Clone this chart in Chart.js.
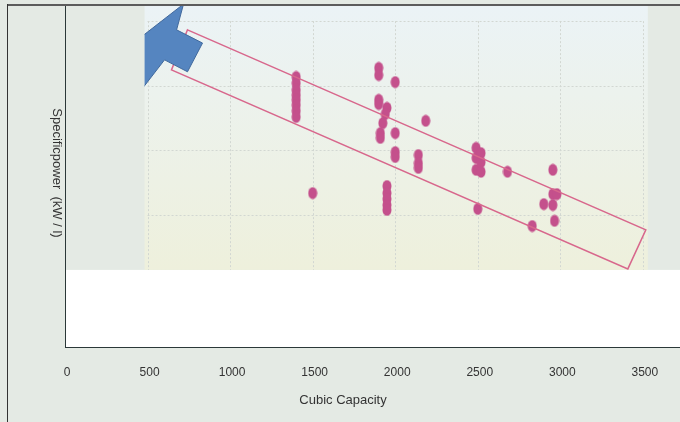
<!DOCTYPE html>
<html>
<head>
<meta charset="utf-8">
<script src="https://cdn.jsdelivr.net/npm/chart.js@4.4.0/dist/chart.umd.min.js"></script>
<style>
  html, body { margin: 0; padding: 0; background: #e4eae4; }
</style>
</head>
<body>
<canvas id="myChart" width="680" height="422"></canvas>
<script>
  // engines: cubic capacity (cc) against specific power (kW/l)
  const capacity = [
    1400, 1400, 1400, 1400, 1400, 1400, 1400, 1400,
    1500,
    1900, 1900, 1900, 1900,
    1950, 1940, 1925, 1910, 1910,
    2000, 2000, 2000, 2000,
    2185,
    2140, 2140, 2140,
    1950, 1950, 1950, 1950, 1950,
    2490, 2490, 2490,
    2520, 2520, 2520,
    2680,
    2500,
    2955, 2955, 2955,
    2980, 2900, 2965, 2830
  ];
  const specPower = [
    82.7, 80.8, 78.7, 77.1, 75.6, 74.0, 72.2, 70.3,
    46.7,
    85.5, 83.3, 75.6, 74.3,
    73.1, 71.2, 68.4, 65.3, 63.8,
    81.1, 65.3, 59.4, 57.9,
    69.1,
    58.5, 56.0, 54.5,
    48.9, 46.7, 44.9, 43.0, 41.5,
    60.7, 57.6, 53.9,
    59.1, 56.3, 53.3,
    53.3,
    41.8,
    53.9, 46.4, 43.0,
    46.4, 43.3, 38.1, 36.5
  ];
  const xTicks = [0, 500, 1000, 1500, 2000, 2500, 3000, 3500];
  const gridY = [40, 60, 80, 100];

  // overlay shapes, in data units (cc, kW/l)
  const band = [[742, 97.3], [3518, 35.3], [3409, 23.2], [645, 84.9]];
  const arrow = [[718, 105.3], [676, 97.3], [833, 93.2], [742, 84.3], [603, 88.0], [452, 78.0], [439, 94.2]];
  const panel = { x0: 482, x1: 3530, y0: 22.9, y1: 105 };

  const BG = '#e4eae4';

  // slightly tall oval marker
  const dot = document.createElement('canvas');
  dot.width = 10; dot.height = 13;
  const dctx = dot.getContext('2d');
  dctx.fillStyle = '#c4508c';
  dctx.beginPath();
  dctx.ellipse(5, 6.5, 4.5, 6, 0, 0, Math.PI * 2);
  dctx.fill();

  const backdrop = {
    id: 'backdrop',
    beforeDraw(chart) {
      const { ctx, chartArea: { left, right, top, bottom }, scales: { x, y } } = chart;
      ctx.save();
      ctx.fillStyle = BG;
      ctx.fillRect(0, 0, chart.width, chart.height);
      ctx.fillStyle = '#ffffff';
      ctx.fillRect(left, top, right - left, bottom - top);

      const pBot = y.getPixelForValue(panel.y0);
      ctx.fillStyle = BG;
      ctx.fillRect(left, top, right - left, pBot - top);

      const pl = x.getPixelForValue(panel.x0), pr = x.getPixelForValue(panel.x1);
      const g = ctx.createLinearGradient(0, top, 0, pBot);
      g.addColorStop(0, '#ebf3f6');
      g.addColorStop(1, '#eef0dc');
      ctx.fillStyle = g;
      ctx.fillRect(pl, top, pr - pl, pBot - top);

      // dotted grid of the inner panel
      ctx.strokeStyle = '#d2d7d2';
      ctx.lineWidth = 1;
      ctx.setLineDash([2, 2]);
      const gx0 = x.getPixelForValue(xTicks[1]);
      const gx1 = x.getPixelForValue(xTicks[xTicks.length - 1]);
      const gy0 = y.getPixelForValue(gridY[gridY.length - 1]);
      ctx.beginPath();
      xTicks.slice(1).forEach(v => {
        const px = Math.round(x.getPixelForValue(v)) + 0.5;
        ctx.moveTo(px, gy0); ctx.lineTo(px, pBot);
      });
      gridY.forEach(v => {
        const py = Math.round(y.getPixelForValue(v)) + 0.5;
        ctx.moveTo(gx0, py); ctx.lineTo(gx1, py);
      });
      ctx.stroke();
      ctx.restore();
    },
    afterDatasetsDraw(chart) {
      const { ctx, chartArea: { top }, scales: { x, y } } = chart;
      ctx.save();
      // pink band around the trend
      ctx.strokeStyle = '#d8678c';
      ctx.lineWidth = 1.5;
      ctx.beginPath();
      band.forEach((p, i) => {
        const px = x.getPixelForValue(p[0]), py = y.getPixelForValue(p[1]);
        i ? ctx.lineTo(px, py) : ctx.moveTo(px, py);
      });
      ctx.closePath();
      ctx.stroke();

      // blue arrow, clipped to the panel
      const pl = x.getPixelForValue(panel.x0), pr = x.getPixelForValue(panel.x1);
      const pBot = y.getPixelForValue(panel.y0);
      ctx.beginPath();
      ctx.rect(pl, top, pr - pl, pBot - top);
      ctx.clip();
      ctx.beginPath();
      arrow.forEach((p, i) => {
        const px = x.getPixelForValue(p[0]), py = y.getPixelForValue(p[1]);
        i ? ctx.lineTo(px, py) : ctx.moveTo(px, py);
      });
      ctx.closePath();
      ctx.fillStyle = '#5585c0';
      ctx.fill();
      ctx.strokeStyle = '#41699c';
      ctx.lineWidth = 1;
      ctx.stroke();
      ctx.restore();
    },
    afterDraw(chart) {
      const { ctx } = chart;
      ctx.save();
      // frame
      ctx.fillStyle = '#5c5c5c';
      ctx.fillRect(7, 4, chart.width - 7, 2);
      ctx.fillStyle = '#333333';
      ctx.fillRect(7, 4, 1, chart.height - 4);

      ctx.fillStyle = '#333333';
      ctx.font = '13px Arial, "Liberation Sans", sans-serif';
      ctx.textAlign = 'center';
      ctx.textBaseline = 'middle';
      ctx.fillText('Cubic Capacity', 343, 400);

      ctx.translate(57, 173);
      ctx.rotate(Math.PI / 2);
      ctx.fillText('Specificpower  (kW / l)', 0, 0);
      ctx.restore();
    }
  };

  const data = {
    datasets: [{
      label: 'Engines',
      data: capacity.map((c, i) => ({ x: c, y: specPower[i] })),
      pointStyle: dot,
      pointRadius: 5,
      pointHoverRadius: 5
    }]
  };

  const config = {
    type: 'scatter',
    data: data,
    options: {
      responsive: false,
      animation: false,
      devicePixelRatio: 1,
      layout: { autoPadding: false, padding: { top: 5, left: 0, right: 0, bottom: 0 } },
      plugins: { legend: { display: false }, tooltip: { enabled: false } },
      scales: {
        x: {
          type: 'linear',
          min: 0,
          max: 3725,
          afterBuildTicks(axis) { axis.ticks = xTicks.map(v => ({ value: v })); },
          afterFit(axis) { axis.height = 75; },
          grid: { display: false, drawTicks: false },
          border: { display: true, color: '#2b3838', width: 1 },
          ticks: {
            padding: 18,
            labelOffset: 2,
            color: '#333333',
            font: { family: 'Arial, "Liberation Sans", sans-serif', size: 12 },
            callback: v => String(v)
          }
        },
        y: {
          type: 'linear',
          min: -1,
          max: 105,
          afterFit(axis) { axis.width = 65; },
          grid: { display: false, drawTicks: false },
          border: { display: true, color: '#2b3838', width: 1 },
          ticks: { display: false }
        }
      }
    },
    plugins: [backdrop]
  };

  const chart = new Chart(document.getElementById('myChart'), config);
</script>
</body>
</html>
